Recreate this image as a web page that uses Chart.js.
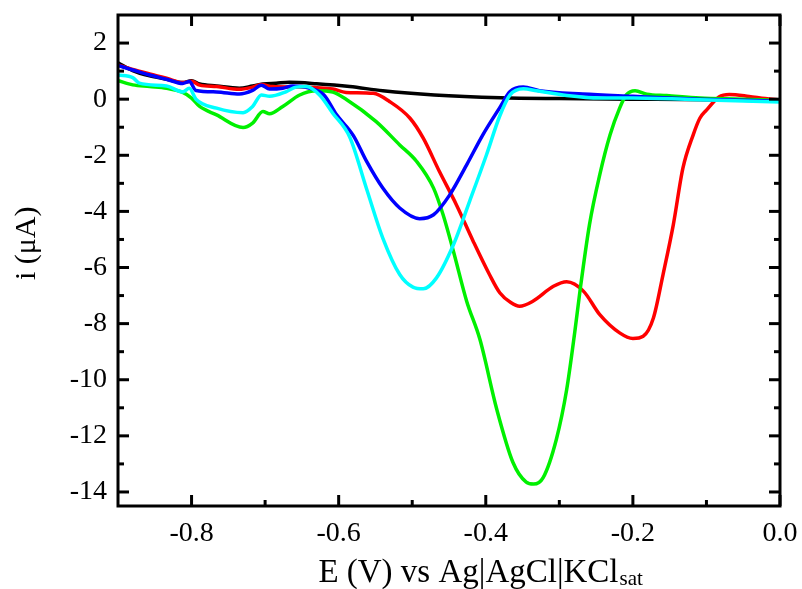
<!DOCTYPE html>
<html><head><meta charset="utf-8">
<script src="https://cdn.jsdelivr.net/npm/chart.js@4"></script>
<style>html,body{margin:0;padding:0;background:#fff}#wrap{width:802px;height:589px;position:relative}</style>
</head><body><div id="wrap"><canvas id="c"></canvas></div>
<script>
const blackE=[-0.9,-0.88,-0.857,-0.834,-0.812,-0.8,-0.789,-0.766,-0.735,-0.717,-0.703,-0.685,-0.667,-0.63,-0.585,-0.54,-0.47,-0.38,-0.3,-0.2,-0.1,0];
const blackI=[1.3,1.02,0.83,0.71,0.59,0.66,0.54,0.47,0.39,0.47,0.54,0.57,0.6,0.55,0.45,0.3,0.15,0.05,0.02,0.0,-0.02,-0.05];

const redE=[-0.9,-0.88,-0.857,-0.834,-0.812,-0.8,-0.789,-0.766,-0.735,-0.717,-0.705,-0.69,-0.653,-0.608,-0.59,-0.553,-0.531,-0.503,-0.485,-0.463,-0.44,-0.417,-0.395,-0.381,-0.366,-0.354,-0.336,-0.308,-0.29,-0.267,-0.245,-0.218,-0.2,-0.186,-0.172,-0.159,-0.145,-0.132,-0.118,-0.109,-0.1,-0.083,-0.069,-0.042,-0.02,0];
const redI=[1.22,1.06,0.9,0.75,0.59,0.64,0.5,0.45,0.35,0.43,0.52,0.45,0.43,0.36,0.24,0.21,-0.08,-0.68,-1.39,-2.58,-3.76,-5.07,-6.25,-6.9,-7.25,-7.38,-7.2,-6.67,-6.51,-6.85,-7.68,-8.33,-8.53,-8.45,-7.79,-6.25,-4.47,-2.46,-1.27,-0.68,-0.39,0.08,0.17,0.1,0.02,-0.03];

const greenE=[-0.9,-0.88,-0.857,-0.834,-0.812,-0.8,-0.789,-0.766,-0.73,-0.717,-0.703,-0.694,-0.676,-0.653,-0.63,-0.608,-0.59,-0.549,-0.517,-0.494,-0.471,-0.458,-0.444,-0.426,-0.408,-0.385,-0.363,-0.345,-0.335,-0.322,-0.304,-0.29,-0.279,-0.272,-0.259,-0.245,-0.231,-0.218,-0.209,-0.197,-0.181,-0.154,-0.109,-0.05,0];
const greenI=[0.66,0.51,0.45,0.39,0.24,0.04,-0.26,-0.56,-1.01,-0.85,-0.44,-0.52,-0.26,0.15,0.3,0.25,0.0,-0.8,-1.63,-2.22,-3.17,-4.12,-5.42,-7.2,-8.56,-11.06,-12.95,-13.65,-13.72,-13.49,-12.12,-10.35,-8.3,-6.85,-4.47,-2.69,-1.27,-0.32,0.15,0.3,0.18,0.13,0.04,0.0,-0.05];

const blueE=[-0.9,-0.88,-0.857,-0.834,-0.812,-0.803,-0.794,-0.766,-0.735,-0.717,-0.705,-0.694,-0.676,-0.663,-0.639,-0.62,-0.603,-0.58,-0.562,-0.54,-0.517,-0.49,-0.471,-0.449,-0.426,-0.404,-0.381,-0.367,-0.349,-0.327,-0.268,-0.2,-0.109,0];
const blueI=[1.2,1.04,0.86,0.71,0.56,0.63,0.31,0.26,0.18,0.31,0.5,0.36,0.39,0.47,0.39,0.15,-0.55,-1.3,-2.22,-3.17,-3.88,-4.26,-4.12,-3.41,-2.34,-1.27,-0.3,0.27,0.43,0.3,0.18,0.1,0.0,-0.07];

const cyanE=[-0.9,-0.88,-0.871,-0.834,-0.812,-0.803,-0.794,-0.766,-0.73,-0.717,-0.705,-0.694,-0.671,-0.658,-0.644,-0.626,-0.608,-0.585,-0.562,-0.54,-0.517,-0.499,-0.485,-0.467,-0.444,-0.422,-0.399,-0.381,-0.367,-0.349,-0.331,-0.29,-0.245,-0.2,-0.109,0];
const cyanI=[0.86,0.77,0.57,0.47,0.26,0.39,0.0,-0.32,-0.48,-0.26,0.15,0.1,0.27,0.43,0.45,0.15,-0.5,-1.35,-3.2,-4.95,-6.25,-6.7,-6.76,-6.37,-5.19,-3.64,-1.98,-0.6,0.15,0.37,0.3,0.13,0.04,0.04,-0.02,-0.1];

const xTicks=[-0.8,-0.6,-0.4,-0.2,0.0];
const xMinor=[-0.7,-0.5,-0.3,-0.1];
const yTicks=[2,0,-2,-4,-6,-8,-10,-12,-14];
const yMinor=[1,-1,-3,-5,-7,-9,-11,-13];
const xTitle='E (V) vs Ag|AgCl|KCl';
const xTitleSub='sat';
const yTitle='i (μA)';

const SERIF='"Liberation Serif","Times New Roman",serif';
function pts(E,I){return E.map((e,i)=>({x:e,y:I[i]}));}
function ds(E,I,c){return {data:pts(E,I),borderColor:c,borderWidth:3.5,pointRadius:0,fill:false,cubicInterpolationMode:'monotone'};}

const framePlugin={
  id:'frame',
  afterDraw(chart){
    const ctx=chart.ctx, a=chart.chartArea, xs=chart.scales.x, ys=chart.scales.y;
    ctx.save();
    ctx.strokeStyle='#000'; ctx.lineWidth=3; ctx.lineCap='butt';
    ctx.strokeRect(a.left,a.top,a.right-a.left,a.bottom-a.top);
    const tick=(x1,y1,x2,y2)=>{ctx.beginPath();ctx.moveTo(x1,y1);ctx.lineTo(x2,y2);ctx.stroke();};
    xTicks.forEach(v=>{const p=xs.getPixelForValue(v);tick(p,a.bottom,p,a.bottom-11);tick(p,a.top,p,a.top+11);});
    xMinor.forEach(v=>{const p=xs.getPixelForValue(v);tick(p,a.bottom,p,a.bottom-6);tick(p,a.top,p,a.top+6);});
    yTicks.forEach(v=>{const p=ys.getPixelForValue(v);tick(a.left,p,a.left+11,p);tick(a.right,p,a.right-11,p);});
    yMinor.forEach(v=>{const p=ys.getPixelForValue(v);tick(a.left,p,a.left+6,p);tick(a.right,p,a.right-6,p);});
    ctx.fillStyle='#000';
    ctx.textBaseline='alphabetic'; ctx.textAlign='left';
    ctx.font='33px '+SERIF; const w1=ctx.measureText(xTitle).width;
    ctx.font='21px '+SERIF; const w2=ctx.measureText(xTitleSub).width;
    const cx=a.left+0.547*(a.right-a.left);
    const x0=cx-(w1+w2)/2;
    ctx.font='33px '+SERIF; ctx.fillText(xTitle,x0,582);
    ctx.font='21px '+SERIF; ctx.fillText(xTitleSub,x0+w1+1,584.5);
    ctx.translate(27.5,a.top+0.465*(a.bottom-a.top));
    ctx.rotate(-Math.PI/2);
    ctx.textAlign='center'; ctx.textBaseline='middle';
    ctx.font='30px '+SERIF; ctx.fillText(yTitle,0,0);
    ctx.restore();
  }
};

function noPad(s){s.paddingLeft=0;s.paddingRight=0;s.paddingTop=0;s.paddingBottom=0;}

new Chart(document.getElementById('c'),{
  type:'line',
  data:{datasets:[ds(cyanE,cyanI,'#00ffff'),ds(blueE,blueI,'#0000ff'),ds(greenE,greenI,'#00f000'),ds(redE,redI,'#ff0000'),ds(blackE,blackI,'#000000')]},
  options:{
    responsive:true,maintainAspectRatio:false,animation:false,
    layout:{padding:{left:0,right:22,top:15,bottom:0}},
    plugins:{legend:{display:false},tooltip:{enabled:false}},
    scales:{
      x:{type:'linear',min:-0.9,max:0,
        afterBuildTicks:s=>{s.ticks=xTicks.map(v=>({value:v}));},
        afterFit:s=>{s.height=83;noPad(s);},
        grid:{display:false,drawTicks:false},border:{display:false},
        ticks:{padding:11,color:'#000',font:{family:SERIF,size:28},callback:v=>Number(v).toFixed(1),maxRotation:0,autoSkip:false}},
      y:{type:'linear',min:-14.5,max:3,
        afterBuildTicks:s=>{s.ticks=yTicks.map(v=>({value:v}));},
        afterFit:s=>{s.width=118;noPad(s);},
        grid:{display:false,drawTicks:false},border:{display:false},
        ticks:{padding:11,color:'#000',font:{family:SERIF,size:28},callback:v=>String(v),autoSkip:false}}
    }
  },
  plugins:[framePlugin]
});
</script></body></html>
